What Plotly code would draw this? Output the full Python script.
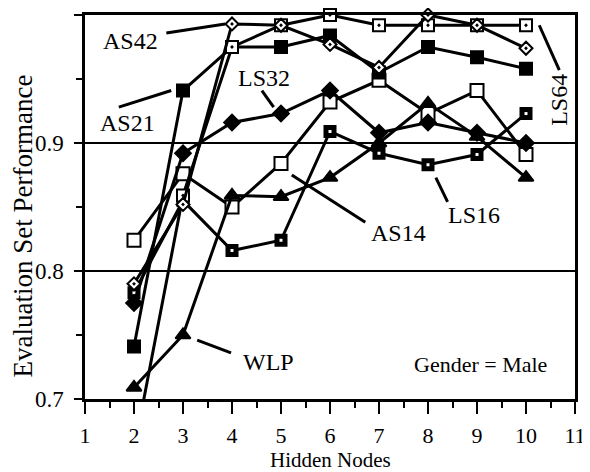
import plotly.graph_objects as go

# ---------------- data ----------------
hidden_nodes = [2, 3, 4, 5, 6, 7, 8, 9, 10]

as42 = [0.790, 0.852, 0.993, 0.992, 0.977, 0.959, 1.000, 0.992, 0.974]
as21 = [0.741, 0.941, 0.975, 0.975, 0.984, 0.955, 0.975, 0.967, 0.958]
ls32 = [0.775, 0.892, 0.916, 0.923, 0.941, 0.908, 0.916, 0.908, 0.900]
ls64 = [0.660, 0.859, 0.975, 0.992, 1.000, 0.992, 0.992, 0.992, 0.992]
ls16 = [0.783, 0.855, 0.816, 0.824, 0.909, 0.892, 0.883, 0.891, 0.923]
as14 = [0.824, 0.876, 0.850, 0.884, 0.932, 0.949, 0.923, 0.941, 0.891]
wlp = [0.709, 0.750, 0.859, 0.858, 0.873, 0.900, 0.931, 0.905, 0.873]

x_ticks = list(range(1, 12))
y_ticks = [0.7, 0.8, 0.9, 1.0]
x_range = [1, 11]
y_range = [0.7, 1.0]

FONT = "'Liberation Serif', 'Times New Roman', Times, 'DejaVu Serif', serif"

fig = go.Figure()


def add_series(name, ys, symbol, size, fill, dot=False):
    fig.add_trace(go.Scatter(x=hidden_nodes, y=ys, mode="lines",
                             line=dict(color="black", width=3),
                             showlegend=False, hoverinfo="skip"))
    pts = [(x, y) for x, y in zip(hidden_nodes, ys) if y_range[0] <= y <= y_range[1]]
    fig.add_trace(go.Scatter(x=[p[0] for p in pts], y=[p[1] for p in pts],
                             mode="markers", name=name, cliponaxis=False,
                             marker=dict(symbol=symbol, size=size, color=fill,
                                         line=dict(color="black", width=2)),
                             showlegend=False))
    if dot:
        fig.add_trace(go.Scatter(x=[p[0] for p in pts], y=[p[1] for p in pts],
                                 mode="markers", cliponaxis=False,
                                 marker=dict(symbol="square", size=3, color="white",
                                             line=dict(width=0)),
                                 showlegend=False, hoverinfo="skip"))


add_series("AS14", as14, "square", 13, "white")
add_series("WLP", wlp, "triangle-up", 13, "black")
add_series("LS16", ls16, "square", 11, "black", dot=True)
add_series("LS32", ls32, "diamond", 12, "black")
add_series("AS21", as21, "square", 12, "black")
add_series("LS64", ls64, "square-dot", 12, "white")
add_series("AS42", as42, "diamond-dot", 10, "white")

# ---------------- labels with pointer lines ----------------
labels = [
    ("AS42", 1.93, 0.980, 0, (2.66, 0.986, 3.86, 0.993)),
    ("AS21", 1.87, 0.916, 0, (1.69, 0.928, 2.76, 0.941)),
    ("LS32", 4.65, 0.951, 0, (4.61, 0.941, 4.85, 0.928)),
    ("LS64", 10.68, 0.934, -90, (10.27, 0.992, 10.68, 0.957)),
    ("AS14", 7.39, 0.830, 0, (5.22, 0.875, 6.72, 0.838)),
    ("LS16", 8.93, 0.844, 0, (8.16, 0.873, 8.40, 0.854)),
    ("WLP", 4.75, 0.729, 0, (3.29, 0.746, 3.98, 0.736)),
]
for text, lx, ly, ang, (x0, y0, x1, y1) in labels:
    fig.add_annotation(x=lx, y=ly, text=text, showarrow=False, textangle=ang,
                       font=dict(family=FONT, size=24, color="black"),
                       xanchor="center", yanchor="middle")
    fig.add_shape(type="line", x0=x0, y0=y0, x1=x1, y1=y1, xref="x", yref="y",
                  line=dict(color="black", width=3))

fig.add_annotation(x=9.07, y=0.727, text="Gender = Male", showarrow=False,
                   font=dict(family=FONT, size=22, color="black"),
                   xanchor="center", yanchor="middle")

fig.add_annotation(xref="paper", yref="paper", x=0.5, y=-0.158,
                   text="Hidden Nodes", showarrow=False,
                   font=dict(family=FONT, size=21, color="black"),
                   xanchor="center", yanchor="middle")
fig.add_annotation(xref="paper", yref="paper", x=-0.126, y=0.45,
                   text="Evaluation Set Performance", showarrow=False, textangle=-90,
                   font=dict(family=FONT, size=27, color="black"),
                   xanchor="center", yanchor="middle")

# page body has an 8px default margin -> figure is 582x464 so that the
# plot area lands at the same place as in the reference
fig.update_layout(
    template="none",
    width=582, height=464,
    margin=dict(l=77, r=15, t=7, b=73, autoexpand=False),
    paper_bgcolor="white", plot_bgcolor="white",
    font=dict(family=FONT, size=22, color="black"),
    showlegend=False,
)
fig.update_xaxes(
    automargin=False,
    range=x_range, tickvals=x_ticks, ticktext=[str(v) for v in x_ticks],
    showline=True, linecolor="black", linewidth=2.5, mirror=True,
    ticks="outside", ticklen=12, tickwidth=2, tickcolor="black",
    minor=dict(dtick=0.5, ticks="outside", ticklen=6, tickwidth=2, tickcolor="black",
               showgrid=False),
    showgrid=False, zeroline=False,
    ticklabelstandoff=3,
    tickfont=dict(family=FONT, size=22),
)
fig.update_yaxes(
    automargin=False,
    range=y_range, tickvals=y_ticks, ticktext=[f"{v:.1f}" for v in y_ticks],
    showline=True, linecolor="black", linewidth=2.5, mirror=True,
    ticks="outside", ticklen=8, tickwidth=2, tickcolor="black",
    minor=dict(dtick=0.05, ticks="outside", ticklen=6, tickwidth=2, tickcolor="black",
               showgrid=False),
    showgrid=True, gridcolor="black", gridwidth=1.5,
    zeroline=False,
    ticklabelstandoff=6,
    tickfont=dict(family=FONT, size=23),
)

fig.write_html("out.html")
